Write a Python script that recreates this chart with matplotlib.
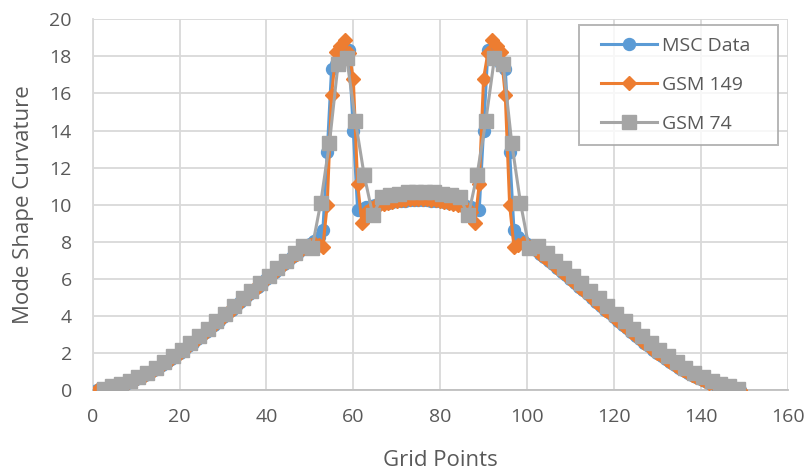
import numpy as np
import matplotlib
matplotlib.use("Agg")
import matplotlib.pyplot as plt
from matplotlib.lines import Line2D
from matplotlib.legend_handler import HandlerLine2D

# ---- data ----
msc_x = np.arange(1, 150)
msc_data = [
    0.00, 0.03, 0.07, 0.12, 0.17, 0.23, 0.30, 0.38, 0.47, 0.57,
    0.68, 0.80, 0.93, 1.06, 1.20, 1.35, 1.50, 1.66, 1.82, 1.99,
    2.17, 2.35, 2.54, 2.73, 2.92, 3.12, 3.32, 3.52, 3.72, 3.92,
    4.13, 4.34, 4.55, 4.76, 4.97, 5.18, 5.38, 5.58, 5.78, 5.98,
    6.18, 6.38, 6.58, 6.78, 6.98, 7.17, 7.36, 7.55, 7.73, 7.90,
    8.06, 8.25, 8.63, 12.85, 17.34, 17.60, 17.85, 18.10, 18.33, 14.00,
    9.70, 9.78, 9.85, 9.91, 9.97, 10.02, 10.07, 10.11, 10.15, 10.18,
    10.20, 10.22, 10.24, 10.25, 10.25, 10.25, 10.24, 10.22, 10.20, 10.18,
    10.15, 10.11, 10.07, 10.02, 9.97, 9.91, 9.85, 9.78, 9.70, 14.00,
    18.33, 18.10, 17.85, 17.60, 17.34, 12.85, 8.63, 8.25, 8.06, 7.90,
    7.73, 7.55, 7.36, 7.17, 6.98, 6.78, 6.58, 6.38, 6.18, 5.98,
    5.78, 5.58, 5.38, 5.18, 4.97, 4.76, 4.55, 4.34, 4.13, 3.92,
    3.72, 3.52, 3.32, 3.12, 2.92, 2.73, 2.54, 2.35, 2.17, 1.99,
    1.82, 1.66, 1.50, 1.35, 1.20, 1.06, 0.93, 0.80, 0.68, 0.57,
    0.47, 0.38, 0.30, 0.23, 0.17, 0.12, 0.07, 0.03, 0.00,
]

gsm149_x = np.arange(1, 150)
gsm149 = [
    0.00, 0.03, 0.07, 0.12, 0.17, 0.23, 0.30, 0.38, 0.47, 0.57,
    0.68, 0.80, 0.93, 1.06, 1.20, 1.35, 1.50, 1.66, 1.82, 1.99,
    2.17, 2.35, 2.54, 2.73, 2.92, 3.12, 3.32, 3.52, 3.72, 3.92,
    4.13, 4.34, 4.55, 4.76, 4.97, 5.18, 5.38, 5.58, 5.78, 5.98,
    6.18, 6.38, 6.58, 6.78, 6.98, 7.17, 7.36, 7.55, 7.73, 7.85,
    7.95, 7.85, 7.73, 10.00, 15.90, 18.24, 18.55, 18.87, 18.20, 16.80,
    11.10, 9.00, 9.60, 9.80, 9.92, 10.00, 10.06, 10.11, 10.16, 10.20,
    10.23, 10.26, 10.28, 10.29, 10.29, 10.29, 10.28, 10.26, 10.23, 10.20,
    10.16, 10.11, 10.06, 10.00, 9.92, 9.80, 9.60, 9.00, 11.10, 16.80,
    18.20, 18.87, 18.55, 18.24, 15.90, 10.00, 7.73, 7.85, 7.95, 7.85,
    7.73, 7.55, 7.36, 7.17, 6.98, 6.78, 6.58, 6.38, 6.18, 5.98,
    5.78, 5.58, 5.38, 5.18, 4.97, 4.76, 4.55, 4.34, 4.13, 3.92,
    3.72, 3.52, 3.32, 3.12, 2.92, 2.73, 2.54, 2.35, 2.17, 1.99,
    1.82, 1.66, 1.50, 1.35, 1.20, 1.06, 0.93, 0.80, 0.68, 0.57,
    0.47, 0.38, 0.30, 0.23, 0.17, 0.12, 0.07, 0.03, 0.00,
]

gsm74_x = np.arange(2.5, 149, 2.0)
gsm74 = [
    0.08, 0.20, 0.34, 0.50, 0.70, 0.93, 1.20, 1.50, 1.82, 2.17,
    2.53, 2.91, 3.30, 3.70, 4.10, 4.52, 4.94, 5.35, 5.76, 6.17,
    6.58, 6.98, 7.38, 7.78, 7.64, 10.10, 13.30, 17.60, 17.90, 14.50,
    11.60, 9.43, 10.40, 10.52, 10.60, 10.66, 10.70, 10.70, 10.66, 10.60,
    10.52, 10.40, 9.43, 11.60, 14.50, 17.90, 17.60, 13.30, 10.10, 7.64,
    7.78, 7.38, 6.98, 6.58, 6.17, 5.76, 5.35, 4.94, 4.52, 4.10,
    3.70, 3.30, 2.91, 2.53, 2.17, 1.82, 1.50, 1.20, 0.93, 0.70,
    0.50, 0.34, 0.20, 0.08,
]

series_names = ["MSC Data", "GSM 149", "GSM 74"]
x_ticks = list(range(0, 161, 20))
y_ticks = list(range(0, 21, 2))

# ---- style ----
plt.rcParams['font.family'] = ['Open Sans', 'DejaVu Sans']
text_color = "#595959"
grid_color = "#D9D9D9"
c_blue, c_orange, c_grey = "#5B9BD5", "#ED7D31", "#A5A5A5"

fig = plt.figure(figsize=(8.07, 4.72), dpi=100)
ax = fig.add_axes([0.1149, 0.1737, 0.861, 0.7854])

ax.plot(msc_x, msc_data, color=c_blue, lw=2.2, marker='o', ms=8.6,
        label=series_names[0], zorder=3)
ax.plot(gsm149_x, gsm149, color=c_orange, lw=2.2, marker='D', ms=6.8,
        label=series_names[1], zorder=4)
ax.plot(gsm74_x, gsm74, color=c_grey, lw=2.2, marker='s', ms=9.8,
        label=series_names[2], zorder=5)

ax.set_xlim(0, 160)
ax.set_ylim(0, 20)
ax.set_xticks(x_ticks)
ax.set_yticks(y_ticks)
ax.grid(True, color=grid_color, lw=1.3, zorder=0)
ax.set_axisbelow(True)
for s in ["top", "right"]:
    ax.spines[s].set_visible(False)
ax.spines["left"].set_color("#D9D9D9")
ax.spines["bottom"].set_color("#BFBFBF")
for s in ["left", "bottom"]:
    ax.spines[s].set_linewidth(1.3)
ax.tick_params(axis='y', length=0, labelsize=14, colors=text_color, pad=15)
ax.tick_params(axis='x', length=0, labelsize=14, colors=text_color, pad=13)
ax.set_xlabel("Grid Points", fontsize=16, color=text_color, va='center')
ax.set_ylabel("Mode Shape Curvature", fontsize=16, color=text_color,
              va='center', ha='center')
ax.xaxis.set_label_coords(0.5, -0.189)
ax.yaxis.set_label_coords(-0.1003, 0.5)

fs = 14 * 100 / 72.0
leg = ax.legend(loc="upper left", bbox_to_anchor=(0.6997, 0.660, 0.2865, 0.324),
                mode="expand", borderaxespad=0, fontsize=14,
                frameon=True, fancybox=False, edgecolor="#A5A5A5",
                labelcolor=text_color, borderpad=0.62, labelspacing=1.08,
                handlelength=3.4, handletextpad=0.25,
                handler_map={Line2D: HandlerLine2D(xpad=10 / fs)})
leg.get_frame().set_linewidth(1.4)
leg.set_zorder(10)

fig.savefig("out.png", dpi=100)
